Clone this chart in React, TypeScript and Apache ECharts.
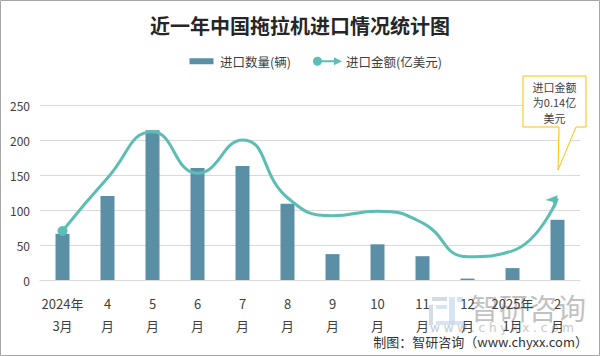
import React, { useEffect, useRef } from "react";
import * as echarts from "echarts";

const categories = ["2024年\n3月", "4\n月", "5\n月", "6\n月", "7\n月", "8\n月", "9\n月", "10\n月", "11\n月", "12\n月", "2025年\n1月", "2\n月"];
const importQty = [66, 120, 214, 160, 163, 109, 37, 51, 34, 2, 17, 86];
const importAmount = [0.084, 0.175, 0.254, 0.183, 0.24, 0.141, 0.11, 0.118, 0.098, 0.04, 0.05, 0.14];
const yTicks = { min: 0, max: 250, interval: 50 };
const titleText = "近一年中国拖拉机进口情况统计图";
const seriesNames = ["进口数量(辆)", "进口金额(亿美元)"];
const noteText = "进口金额\n为0.14亿\n美元";
const footerText = "制图：智研咨询（www.chyxx.com）";

const BAR_COLOR = "#5B8FA6";
const LINE_COLOR = "#5CBDB4";
const FONT = "'Noto Sans CJK SC', 'Noto Sans', sans-serif";

export default function App() {
  const ref = useRef<HTMLDivElement>(null);
  useEffect(() => {
    if (!ref.current) return;
    const chart = echarts.init(ref.current, undefined, { renderer: "svg" });
    const lineData = importAmount.map((v, i) => {
      if (i === 0) return { value: v, symbol: "circle", symbolSize: 10 };
      if (i === importAmount.length - 1) return { value: v, symbol: "arrow", symbolSize: [10, 11], symbolRotate: -38, symbolOffset: [0, -3] };
      return { value: v };
    });
    chart.setOption({
      animation: false,
      textStyle: { fontFamily: FONT },
      title: {
        text: titleText,
        left: "center",
        top: 10,
        textStyle: { fontSize: 20, fontWeight: "bold", color: "#262626", fontFamily: FONT },
      },
      legend: {
        left: 182,
        top: 50,
        itemWidth: 29,
        itemHeight: 9,
        itemGap: 22,
        textStyle: { fontSize: 12.5, color: "#404040", padding: [0, 0, 0, -1] },
        data: [
          { name: seriesNames[0], icon: "path://M0,0 M29,9 M2.5,1.5 L26.5,1.5 L26.5,7.5 L2.5,7.5 Z" },
          { name: seriesNames[1], icon: "path://M0,4.5 A4.5,4.5 0 1,1 9,4.5 A4.5,4.5 0 1,1 0,4.5 Z M8,3.5 L21,3.5 L21,0.5 L29,4.5 L21,8.5 L21,5.5 L8,5.5 Z" },
        ],
      },
      grid: { left: 40, right: 20, top: 105, bottom: 76, containLabel: false },
      xAxis: {
        type: "category",
        data: categories,
        axisLine: { lineStyle: { color: "#D9D9D9", width: 1 } },
        axisTick: { show: false },
        axisLabel: { fontSize: 13, color: "#404040", lineHeight: 22, margin: 12, interval: 0 },
      },
      yAxis: [
        {
          type: "value",
          min: yTicks.min,
          max: yTicks.max,
          interval: yTicks.interval,
          axisLine: { show: false },
          axisTick: { show: false },
          axisLabel: { fontSize: 12, color: "#404040", margin: 10 },
          splitLine: { lineStyle: { color: "#D9D9D9", width: 1 } },
        },
        { type: "value", min: 0, max: 0.3, show: false, splitLine: { show: false } },
      ],
      series: [
        {
          name: seriesNames[0],
          type: "bar",
          data: importQty,
          barWidth: 14,
          itemStyle: { color: BAR_COLOR },
        },
        {
          name: seriesNames[1],
          type: "line",
          yAxisIndex: 1,
          data: lineData,
          smooth: 0.5,
          symbol: "none",
          showSymbol: true,
          lineStyle: { color: LINE_COLOR, width: 3 },
          itemStyle: { color: LINE_COLOR },
        },
      ],
      graphic: [
        {
          type: "rect",
          shape: { x: 0.5, y: 0.5, width: 599, height: 355 },
          style: { fill: "none", stroke: "#A6A6A6", lineWidth: 1 },
          silent: true,
        },
        {
          type: "polygon",
          shape: { points: [[523, 76], [586, 76], [586, 127], [576, 127], [558, 170], [559, 127], [523, 127]] },
          style: { fill: "#FFFFFF", stroke: "#FFC000", lineWidth: 1 },
          z: 10,
        },
        {
          type: "text",
          x: 554.5,
          y: 79,
          z: 11,
          style: { text: noteText, fill: "#404040", fontSize: 11, lineHeight: 15.5, align: "center", verticalAlign: "top", fontFamily: FONT },
        },
        // watermark logo
        { type: "rect", shape: { x: 432, y: 297, width: 15, height: 4 }, style: { fill: "#B7C3CF", opacity: 0.6 }, z: 0 },
        { type: "rect", shape: { x: 429, y: 305, width: 4, height: 20 }, style: { fill: "#B7C3CF", opacity: 0.6 }, z: 0 },
        { type: "rect", shape: { x: 436, y: 305, width: 11, height: 4 }, style: { fill: "#C6D9EE", opacity: 0.7 }, z: 0 },
        { type: "rect", shape: { x: 449, y: 297, width: 6, height: 28 }, style: { fill: "#C6D9EE", opacity: 0.7 }, z: 0 },
        { type: "rect", shape: { x: 457, y: 297, width: 6, height: 5 }, style: { fill: "#C6D9EE", opacity: 0.7 }, z: 0 },
        { type: "rect", shape: { x: 436, y: 321, width: 27, height: 4 }, style: { fill: "#C6D9EE", opacity: 0.7 }, z: 0 },
        {
          type: "text",
          x: 470,
          y: 292,
          z: 0,
          style: { text: "智研咨询", fill: "#A6A6A6", opacity: 0.7, fontSize: 29, fontFamily: FONT, verticalAlign: "top" },
        },
        {
          type: "text",
          x: 430,
          y: 322,
          z: 0,
          style: { text: "w w w . c h y x x . c o m", fill: "#C8C8C8", fontSize: 12, fontFamily: "'DejaVu Sans', sans-serif", verticalAlign: "top" },
        },
        {
          type: "text",
          right: 12,
          top: 335,
          z: 5,
          style: { text: footerText, fill: "#333333", fontSize: 13, fontFamily: FONT },
        },
      ],
    });
    return () => chart.dispose();
  }, []);
  return (
    <div style={{ position: "fixed", left: 0, top: 0, width: 600, height: 356, background: "#FFFFFF" }}>
      <div ref={ref} style={{ width: 600, height: 356 }} />
    </div>
  );
}
